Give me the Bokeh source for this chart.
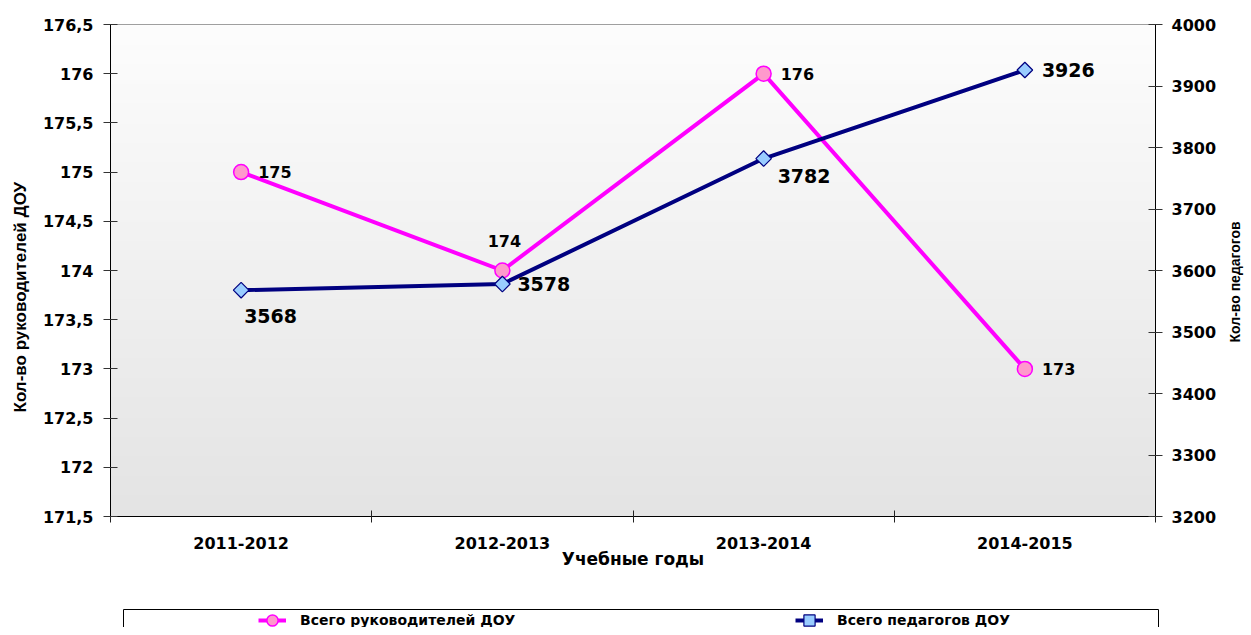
import math
import numpy as np
from bokeh.plotting import figure
from bokeh.models import (Range1d, LinearAxis, FixedTicker, CustomJSTickFormatter,
                          ColumnDataSource, Legend, LegendItem, Spacer, Title)
from bokeh.layouts import column, row
from bokeh.embed import file_html
from bokeh.resources import INLINE
from bokeh.core.properties import value

# ---------------- data ----------------
years = ["2011-2012", "2012-2013", "2013-2014", "2014-2015"]
heads = [175, 174, 176, 173]            # Всего руководителей ДОУ (left axis)
teachers = [3568, 3578, 3782, 3926]     # Всего педагогов ДОУ (right axis)
left_ticks = [171.5, 172, 172.5, 173, 173.5, 174, 174.5, 175, 175.5, 176, 176.5]
right_ticks = [3200, 3300, 3400, 3500, 3600, 3700, 3800, 3900, 4000]

# ---------------- styles ----------------
FONT = "DejaVu Sans"
PINK = "#ff00ff"
PINK_FILL = "#ff99cc"
NAVY = "#000080"
BLUE_FILL = "#99ccff"

# label placement (screen px offsets) per point
head_dx = [17, 2, 17, 17]
head_dy = [0, -30, 0, 0]
head_align = ["left", "center", "left", "left"]
teach_dx = [3, 15, 14, 17]
teach_dy = [26, 0, 17, 0]

n = len(years)
x = np.arange(n) + 0.5

src = ColumnDataSource(dict(
    x=x, heads=heads, teachers=teachers,
    hl=[str(v) for v in heads], tl=[str(v) for v in teachers],
    hdx=head_dx, hdy=head_dy, hal=head_align, tdx=teach_dx, tdy=teach_dy,
))

LEFT_W = 32
p = figure(width=1226 - LEFT_W, height=601,
           x_range=Range1d(0, n), y_range=Range1d(left_ticks[0], left_ticks[-1]),
           output_backend="svg", toolbar_location=None,
           min_border_left=110 - LEFT_W, min_border_right=71, min_border_top=24, min_border_bottom=85)
p.extra_y_ranges = {"ped": Range1d(right_ticks[0], right_ticks[-1])}
p.grid.visible = False
p.outline_line_color = "#808080"
p.background_fill_color = "white"
p.border_fill_color = "white"

# gradient background of plot area
N = 256
t = np.linspace(0, 1, N)
bot = np.array([228, 228, 228], dtype=float)
top = np.array([253, 253, 253], dtype=float)
rgb = bot + (top - bot) * t[:, None]
img = np.zeros((N, 1), dtype=np.uint32)
view = img.view(dtype=np.uint8).reshape((N, 1, 4))
view[:, 0, 0:3] = rgb.astype(np.uint8)
view[:, 0, 3] = 255
p.image_rgba(image=[img], x=p.x_range.start, y=p.y_range.start,
             dw=p.x_range.end - p.x_range.start, dh=p.y_range.end - p.y_range.start,
             level="image")

# series
p.line("x", "heads", source=src, line_color=PINK, line_width=4)
p.scatter("x", "heads", source=src, marker="circle", size=15,
          fill_color=PINK_FILL, line_color=PINK, line_width=1.5)
p.line("x", "teachers", source=src, y_range_name="ped", line_color=NAVY, line_width=4)
p.scatter("x", "teachers", source=src, y_range_name="ped", marker="square", angle=np.pi / 4,
          size=11, fill_color=BLUE_FILL, line_color=NAVY, line_width=1.2)

# data labels
p.text("x", "heads", text="hl", source=src, x_offset="hdx", y_offset="hdy",
       text_align="hal", text_baseline="middle", text_font=value(FONT),
       text_font_style="bold", text_font_size="16px", text_color="black")
p.text("x", "teachers", text="tl", source=src, y_range_name="ped", x_offset="tdx", y_offset="tdy",
       text_align="left", text_baseline="middle", text_font=value(FONT),
       text_font_style="bold", text_font_size="19px", text_color="black")

# x axis
xa = p.xaxis[0]
xa.ticker = FixedTicker(ticks=list(x), minor_ticks=list(range(n + 1)))
xa.formatter = CustomJSTickFormatter(args=dict(labels=years), code="return labels[Math.floor(tick)]")
xa.major_tick_in = 0
xa.major_tick_out = 0
xa.minor_tick_in = 6
xa.minor_tick_out = 6
xa.minor_tick_line_color = "#222222"
xa.axis_line_color = "black"
xa.major_label_standoff = 14
xa.major_label_text_font = FONT
xa.major_label_text_font_style = "bold"
xa.major_label_text_font_size = "16px"
xa.major_label_text_color = "black"
xa.axis_label = "Учебные годы"
xa.axis_label_standoff = -3
xa.axis_label_text_font = FONT
xa.axis_label_text_font_style = "bold"
xa.axis_label_text_font_size = "17px"
xa.axis_label_text_color = "black"


def style_y(ax):
    ax.major_tick_in = 7
    ax.major_tick_out = 7
    ax.major_tick_line_color = "#333333"
    ax.minor_tick_line_color = None
    ax.axis_line_color = "black"
    ax.major_label_standoff = 10
    ax.major_label_text_font = FONT
    ax.major_label_text_font_style = "bold"
    ax.major_label_text_font_size = "16px"
    ax.major_label_text_color = "black"


ya = p.yaxis[0]
ya.ticker = FixedTicker(ticks=left_ticks)
ya.formatter = CustomJSTickFormatter(code="return tick.toString().replace('.', ',')")
style_y(ya)

yr = LinearAxis(y_range_name="ped", ticker=FixedTicker(ticks=right_ticks))
style_y(yr)
yr.major_label_standoff = 9
p.add_layout(yr, "right")


def title_strip(width, border_left, text, offset, size):
    s = figure(width=width, height=601, x_range=Range1d(0, 1), y_range=Range1d(0, 1),
               output_backend="svg", toolbar_location=None,
               x_axis_location=None, y_axis_location=None,
               min_border_left=border_left, min_border_right=0, min_border_top=24, min_border_bottom=85)
    s.grid.visible = False
    s.outline_line_color = None
    s.background_fill_color = "white"
    s.border_fill_color = "white"
    s.add_layout(Title(text=text, align="left", offset=offset, vertical_align="middle",
                       standoff=0, text_font="Liberation Sans", text_font_style="bold",
                       text_font_size=size, text_color="black"), "left")
    return s


# axis titles read bottom-to-top, as in the reference
p4 = title_strip(LEFT_W, 30, "Кол-во руководителей ДОУ", 104, "17px")
p3 = title_strip(17, 0, "Кол-во педагогов", 174, "14px")

# ---------------- legend strip ----------------
p2 = figure(width=1036, height=26, x_range=Range1d(0, 1), y_range=Range1d(0, 1),
            output_backend="svg", toolbar_location=None,
            x_axis_location=None, y_axis_location=None,
            min_border_left=0, min_border_right=1, min_border_top=8, min_border_bottom=0)
p2.grid.visible = False
p2.outline_line_color = None
p2.background_fill_color = "white"
p2.border_fill_color = "white"
for side in ["left", "right", "above"]:
    ax = LinearAxis(ticker=FixedTicker(ticks=[]), axis_line_color="black",
                    major_tick_in=0, major_tick_out=0, minor_tick_in=0, minor_tick_out=0,
                    major_label_standoff=0, major_label_text_font_size="0px")
    p2.add_layout(ax, side)

# same series (outside this strip's visible range) used only as legend glyph sources
l1 = p2.line("x", "heads", source=src, line_color=PINK, line_width=4)
s1 = p2.scatter("x", "heads", source=src, marker="circle", size=15,
                fill_color=PINK_FILL, line_color=PINK, line_width=1.5)
l2 = p2.line("x", "teachers", source=src, line_color=NAVY, line_width=4)
s2 = p2.scatter("x", "teachers", source=src, marker="square", angle=np.pi / 4, size=11,
                fill_color=BLUE_FILL, line_color=NAVY, line_width=1.2)

legend = Legend(items=[LegendItem(label="Всего руководителей ДОУ", renderers=[l1, s1]),
                       LegendItem(label="Всего педагогов ДОУ", renderers=[l2, s2])],
                orientation="horizontal", location=(135, -8),
                glyph_width=28, glyph_height=30, label_standoff=14, label_width=480,
                spacing=15, padding=0, margin=0,
                border_line_alpha=0, background_fill_alpha=0,
                label_text_font=FONT, label_text_font_style="bold",
                label_text_font_size="14px", label_text_color="black")
p2.add_layout(legend, "center")

layout = column(row(p4, p, p3), row(Spacer(width=123, height=26), p2))
open("out.html", "w").write(file_html(layout, INLINE))
